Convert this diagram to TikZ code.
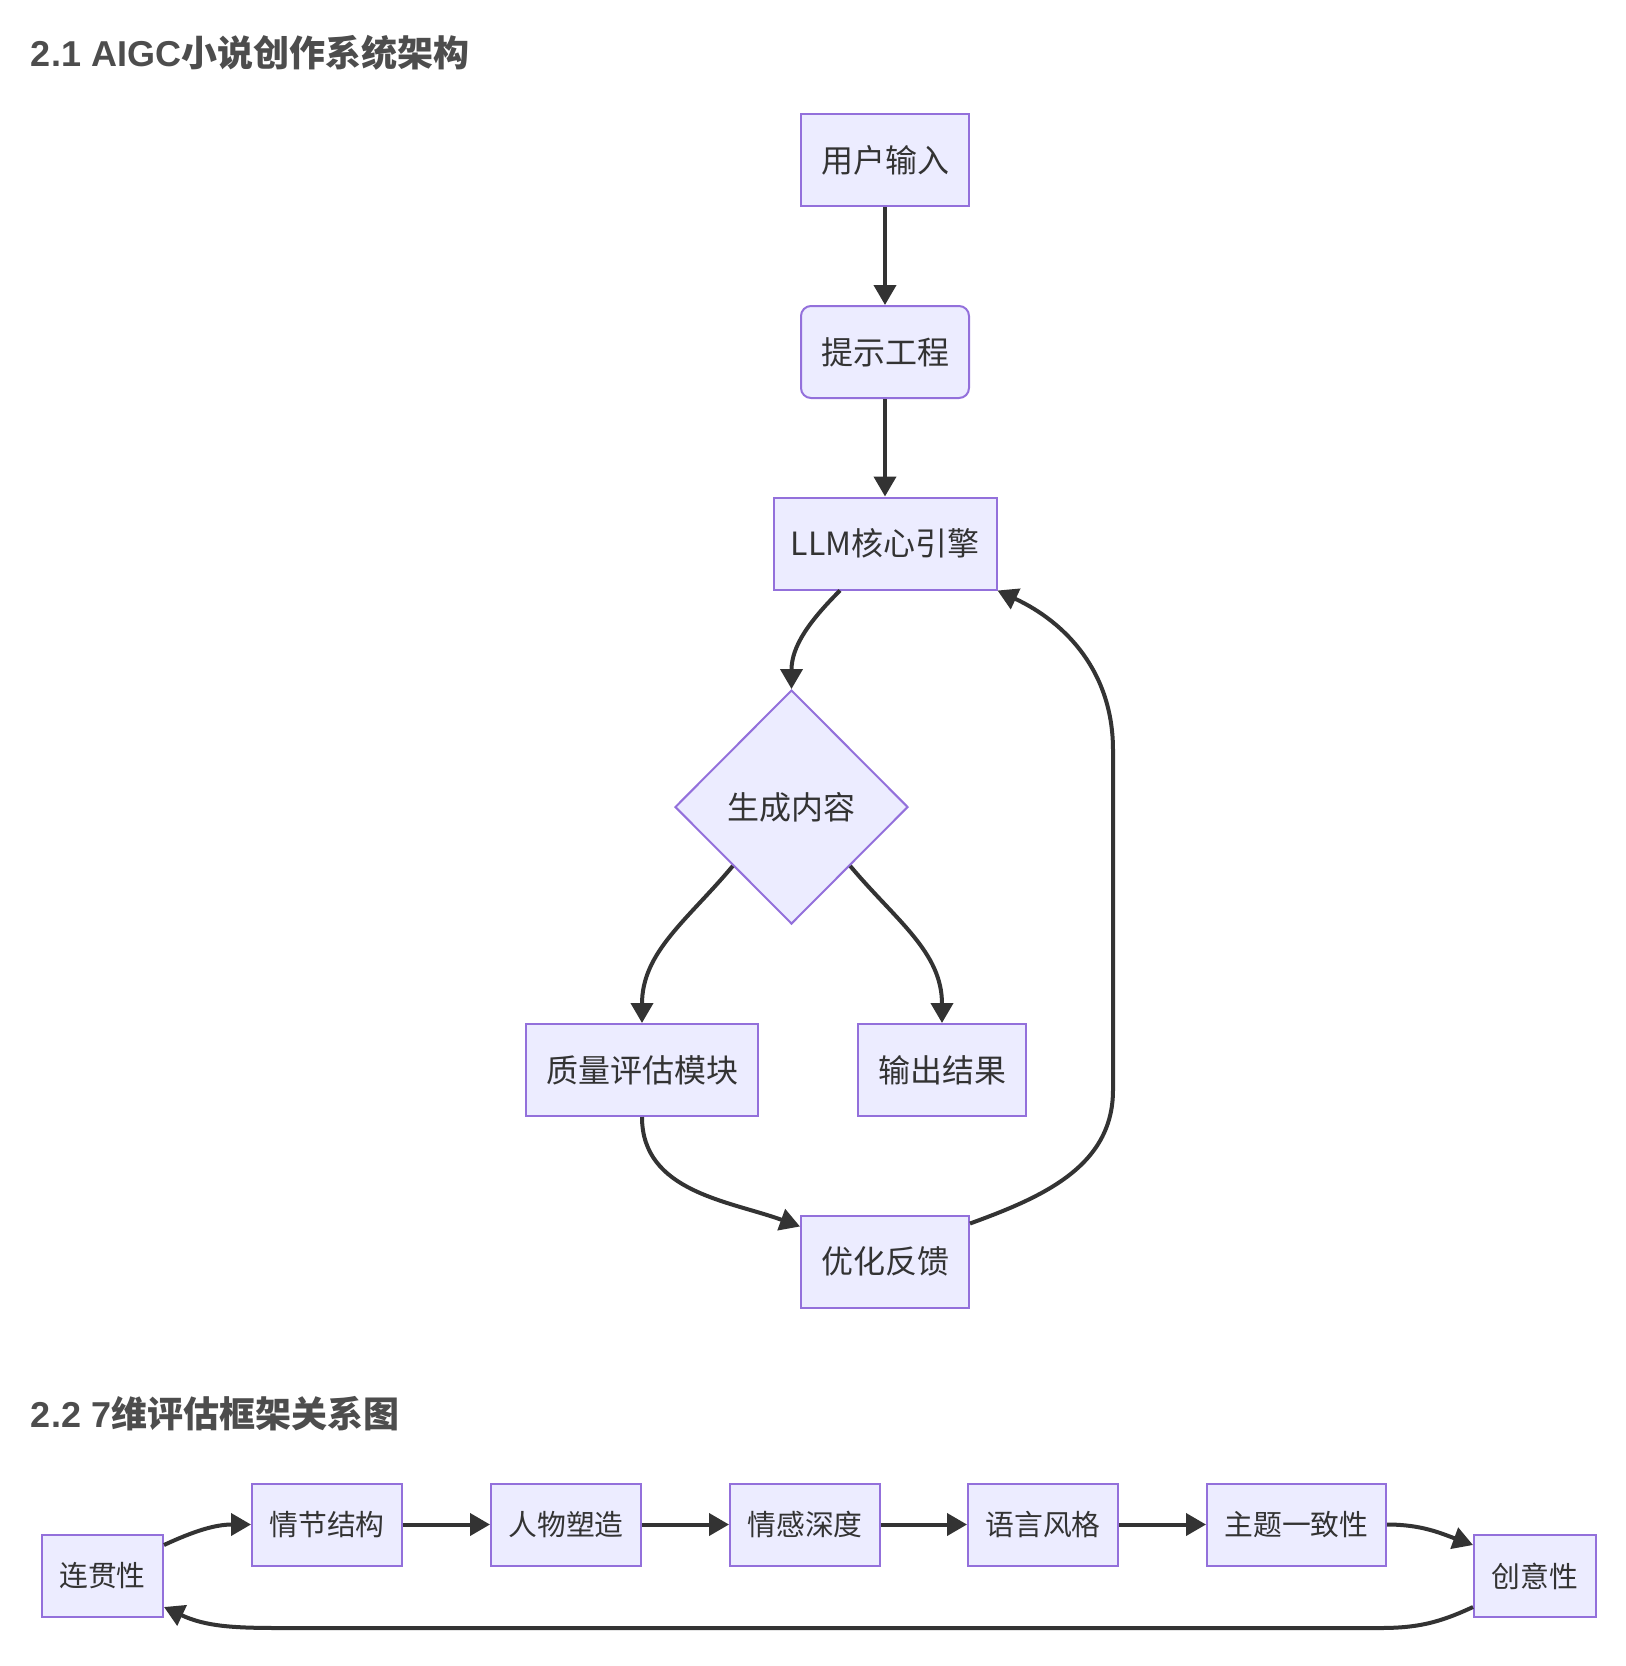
\documentclass[tikz,border=0pt]{standalone}
\usepackage{fontspec}
\setmainfont{Liberation Sans}
\newfontfamily\cjk{Noto Sans CJK SC}
\usepackage{tikz}
\usetikzlibrary{shapes,arrows.meta}
\definecolor{boxfill}{HTML}{ECECFF}
\definecolor{boxline}{HTML}{9370DB}
\definecolor{edgeline}{HTML}{333333}
\definecolor{headgray}{HTML}{4D4D4D}

\begin{document}
\begin{tikzpicture}[x=0.5pt, y=0.5pt, ->, >={Triangle[length=10pt,width=11pt]}, line width=2pt, edgeline]

\tikzstyle{box}=[
    rectangle,
    draw=boxline,
    fill=boxfill,
    line width=1pt,
    text=edgeline,
    inner sep=0pt,
    minimum height=46pt,
    font=\cjk\fontsize{16}{19}\selectfont
]
\tikzstyle{dim}=[box, minimum width=75pt, minimum height=41pt,
    font=\cjk\fontsize{14.4}{17}\selectfont]
\tikzstyle{heading}=[anchor=west, inner sep=0pt, text=headgray,
    font=\bfseries\fontsize{18}{21}\selectfont]

\path[-] (0,0) rectangle (1626,-1666);
\useasboundingbox (0,0) rectangle (1626,-1666);

% 2.1
\node[heading] (T_1) at (29,-53) {2.1 AIGC{\cjk 小说创作系统架构}};

\node[box, minimum width=84pt] (Inp) at (885,-160) {用户输入};
\node[box, minimum width=84pt, rounded corners=5pt] (Prm) at (885,-352) {提示工程};
\node[box, minimum width=111.5pt] (LLM) at (885,-543.5) {LLM核心引擎};
\node[box, diamond, minimum width=116.5pt, minimum height=117pt] (Gen) at (791.5,-807) {生成内容};
\node[box, minimum width=116pt] (QA) at (642,-1070) {质量评估模块};
\node[box, minimum width=84pt] (Out) at (942,-1070) {输出结果};
\node[box, minimum width=84pt] (Fb) at (885,-1261.5) {优化反馈};

\coordinate (Fb_r) at (1113,-1090);
\coordinate (LLM_r) at (1113,-750);

\path
(Inp) edge (Prm)
(Prm) edge (LLM)
([xshift=-22.5pt]LLM.south) edge[out=-135, in=90] (Gen.north)
(Gen.south west) edge[out=-130, in=90] (QA.north)
(Gen.south east) edge[out=-50, in=90] (Out.north)
(QA.south) edge[out=-90, in=160] ([yshift=-6pt]Fb.north west);

\draw ([yshift=-4.5pt]Fb.north east) to[out=20, in=-90] (Fb_r) -- (LLM_r)
    to[out=90, in=-25] (LLM.south east);

% 2.2
\node[heading] (T_2) at (29,-1414) {2.2 7{\cjk 维评估框架关系图}};

\node[dim, minimum width=60.5pt] (D_1) at (102.5,-1576) {连贯性};
\node[dim] (D_2) at (327,-1524.5) {情节结构};
\node[dim] (D_3) at (566,-1524.5) {人物塑造};
\node[dim] (D_4) at (805,-1524.5) {情感深度};
\node[dim] (D_5) at (1043,-1524.5) {语言风格};
\node[dim, minimum width=89.5pt] (D_6) at (1296.5,-1524.5) {主题一致性};
\node[dim, minimum width=61pt] (D_7) at (1535,-1576) {创意性};

\coordinate (Low_r) at (1380,-1628);
\coordinate (Low_l) at (280,-1628);

\path
([yshift=-5.5pt]D_1.north east) edge[out=25, in=180] (D_2.west)
(D_2) edge (D_3)
(D_3) edge (D_4)
(D_4) edge (D_5)
(D_5) edge (D_6)
(D_6.east) edge[out=0, in=160] ([yshift=-5.5pt]D_7.north west);

\draw ([yshift=5.5pt]D_7.south west) to[out=-155, in=0] (Low_r) -- (Low_l)
    to[out=180, in=-25] ([yshift=5.5pt]D_1.south east);

\end{tikzpicture}
\end{document}
